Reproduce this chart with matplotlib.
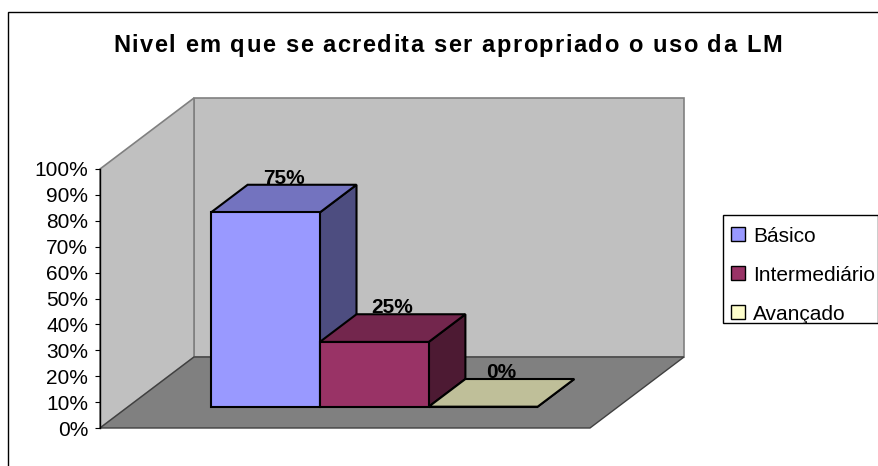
import matplotlib
matplotlib.use("Agg")
import matplotlib.pyplot as plt
from matplotlib.patches import Polygon, Rectangle
from matplotlib.transforms import IdentityTransform
from matplotlib.ticker import PercentFormatter, MultipleLocator

plt.rcParams['font.family'] = ['Liberation Sans', 'DejaVu Sans']

# --- dados ---
titulo = "Nivel em que se acredita ser apropriado o uso da LM"
categorias = ["Básico", "Intermediário", "Avançado"]
valores = [0.75, 0.25, 0.0]
cores_frente = ["#9999FF", "#993366", "#FFFFCC"]
cores_topo = ["#7373BF", "#73264D", "#BFBF99"]
cores_lado = ["#4D4D80", "#4D1A33", "#808066"]

W, H = 879, 466
DX, DY = 94, 71          # deslocamento da profundidade (pixels)
D0, D1 = 0.30, 0.69      # profundidade das barras

fig = plt.figure(figsize=(W / 100, H / 100), dpi=100)
ax = fig.add_axes([100 / W, (H - 428) / H, 490 / W, 259 / H])
ax.set_xlim(-1.26, 3.24)
ax.set_ylim(0, 1)
ax.patch.set_visible(False)
for s in ['top', 'right', 'bottom']:
    ax.spines[s].set_visible(False)
ax.spines['left'].set_linewidth(1.0)
ax.set_xticks([])
ax.yaxis.set_major_locator(MultipleLocator(0.1))
ax.yaxis.set_major_formatter(PercentFormatter(1.0, decimals=0))
ax.tick_params(axis='y', direction='out', length=3.6, width=0.8, pad=5, labelsize=15)


def proj(x, y, d):
    px, py = ax.transData.transform((x, y))
    return (px + DX * d, py + DY * d)


def face(pts, cor, borda, lw, z):
    ax.add_patch(Polygon(pts, closed=True, facecolor=cor, edgecolor=borda, lw=lw,
                         transform=IdentityTransform(), clip_on=False, zorder=z))


def texto_espacado(xc, y, s, largura_alvo, **kw):
    # texto com espacamento entre letras (como o Excel desenha o titulo)
    r = fig.canvas.get_renderer()

    def largura(t):
        a = fig.text(0, 0, t + "|", **kw)
        w = a.get_window_extent(r).width
        a.remove()
        return w

    base = largura("")
    natural = largura(s) - base
    esp = (largura_alvo - natural) / (len(s) - 1)
    x0 = xc - largura_alvo / 2
    for k, ch in enumerate(s):
        if ch == " ":
            continue
        off = largura(s[:k]) - base + k * esp
        fig.text(x0 + off, y, ch, transform=IdentityTransform(), ha='left', va='baseline', **kw)


# --- paredes e chao ---
x0, x1 = ax.get_xlim()
face([proj(x0, 0, 1), proj(x1, 0, 1), proj(x1, 1, 1), proj(x0, 1, 1)], '#C0C0C0', '#808080', 1.2, 0.5)
face([proj(x0, 0, 0), proj(x0, 0, 1), proj(x0, 1, 1), proj(x0, 1, 0)], '#C0C0C0', '#808080', 1.2, 0.6)
face([proj(x0, 0, 0), proj(x1, 0, 0), proj(x1, 0, 1), proj(x0, 0, 1)], '#808080', '#404040', 1.0, 0.7)

# --- barras ---
for i, v in enumerate(valores):
    l, r = i - 0.5, i + 0.5
    frente = [proj(l, 0, D0), proj(r, 0, D0), proj(r, v, D0), proj(l, v, D0)]
    lado = [proj(r, 0, D0), proj(r, 0, D1), proj(r, v, D1), proj(r, v, D0)]
    topo = [proj(l, v, D0), proj(r, v, D0), proj(r, v, D1), proj(l, v, D1)]
    z = 3 + i
    face(lado, cores_lado[i], 'black', 1.5, z)
    face(topo, cores_topo[i], 'black', 1.5, z)
    face(frente, cores_frente[i], 'black', 1.5, z)

    px, _ = proj(i, v, (D0 + D1) / 2)
    _, py = proj(i, v, D1)
    ax.text(px, py + 1, f"{v:.0%}", transform=IdentityTransform(), ha='center', va='baseline',
            fontsize=15, fontweight='bold', zorder=10)

# --- titulo ---
texto_espacado(447.5, H - 52, titulo, 669, fontsize=17, fontweight='bold')

# --- borda do grafico ---
fig.add_artist(Rectangle((8 / W, -0.1), 1.1, (H - 12) / H + 0.1, transform=fig.transFigure,
                         fill=False, edgecolor='black', lw=1))

# --- legenda ---
fig.add_artist(Rectangle((723, H - 323), 155, 108, transform=IdentityTransform(),
                         facecolor='white', edgecolor='black', lw=1))
for k, nome in enumerate(categorias):
    yb = H - (242 + 39 * k)
    fig.add_artist(Rectangle((731, yb + 1), 14, 14, transform=IdentityTransform(),
                             facecolor=cores_frente[k], edgecolor='black', lw=1))
    fig.text(753, yb, nome, transform=IdentityTransform(), ha='left', va='baseline', fontsize=15)

fig.savefig("out.png", dpi=100)
